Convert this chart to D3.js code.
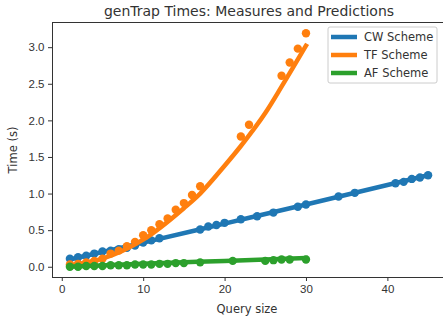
<!DOCTYPE html>
<html>
<head>
<meta charset="utf-8">
<script src="https://cdn.jsdelivr.net/npm/d3@7"></script>
<style>
  body { margin: 0; background: #fff; }
  svg { font-family: "DejaVu Sans", sans-serif; }
  .axis text { fill: #333; font-size: 11.5px; }
  .axis path, .axis line { stroke: #333; }
</style>
</head>
<body>
<svg id="chart" width="443" height="320"></svg>
<script>
// measured points
let cwX = [1, 2, 3, 4, 5, 6, 7, 8, 9, 10, 11, 12, 17, 18, 19, 20, 22, 24, 26, 29, 30, 34, 36, 41, 42, 43, 44, 45]
let cwY = [0.11, 0.13, 0.15, 0.18, 0.21, 0.22, 0.24, 0.26, 0.29, 0.33, 0.36, 0.39, 0.51, 0.55, 0.57, 0.60, 0.65, 0.69, 0.74, 0.82, 0.85, 0.96, 1.01, 1.14, 1.16, 1.20, 1.22, 1.25]

let tfX = [1, 2, 3, 4, 5, 6, 7, 8, 9, 10, 11, 12, 13, 14, 15, 16, 17, 22, 23, 27, 28, 29, 30]
let tfY = [0.03, 0.04, 0.06, 0.08, 0.11, 0.18, 0.22, 0.28, 0.34, 0.43, 0.50, 0.58, 0.66, 0.78, 0.87, 0.98, 1.10, 1.78, 1.94, 2.61, 2.79, 2.98, 3.19]

let afX = [1, 2, 3, 4, 5, 6, 7, 8, 9, 10, 11, 12, 13, 14, 15, 17, 21, 25, 26, 27, 28, 30]
let afY = [0.0, 0.0, 0.01, 0.01, 0.01, 0.02, 0.02, 0.02, 0.03, 0.03, 0.03, 0.04, 0.04, 0.05, 0.05, 0.06, 0.08, 0.08, 0.09, 0.10, 0.10, 0.10]

// predictions
let cwPredX = [1, 10, 20, 30, 45]
let cwPredY = [0.10, 0.33, 0.59, 0.85, 1.25]

let tfPredX = [1, 5, 10, 15, 17, 20, 22, 25, 27, 30]
let tfPredY = [0.02, 0.11, 0.37, 0.80, 1.00, 1.38, 1.65, 2.10, 2.46, 3.02]

let afPredX = [1, 10, 20, 30]
let afPredY = [0.0, 0.04, 0.08, 0.12]

let seriesNames = ["CW Scheme", "TF Scheme", "AF Scheme"]
let colors = ["#1f77b4", "#ff7f0e", "#2ca02c"]

let xTicks = [0, 10, 20, 30, 40]
let yTicks = [0.0, 0.5, 1.0, 1.5, 2.0, 2.5, 3.0]

let margin = { top: 22, right: -3, bottom: 43, left: 52 }
let width = 443
let height = 320

let svg = d3.select("#chart")

let x = d3.scaleLinear()
    .domain([-1.2, 47.2])
    .range([margin.left, width - margin.right])

let y = d3.scaleLinear()
    .domain([-0.14, 3.344])
    .range([height - margin.bottom, margin.top])

let zip = (xs, ys) => xs.map((v, i) => ({ x: v, y: ys[i] }))

let series = [
  { name: seriesNames[0], color: colors[0], pts: zip(cwX, cwY), pred: zip(cwPredX, cwPredY) },
  { name: seriesNames[1], color: colors[1], pts: zip(tfX, tfY), pred: zip(tfPredX, tfPredY) },
  { name: seriesNames[2], color: colors[2], pts: zip(afX, afY), pred: zip(afPredX, afPredY) }
]

let line = d3.line()
    .x(d => x(d.x))
    .y(d => y(d.y))
    .curve(d3.curveMonotoneX)

series.forEach(s => {
  svg.append("path")
    .attr("d", line(s.pred))
    .style("fill", "none")
    .style("stroke", s.color)
    .style("stroke-width", 4.5)
    .style("stroke-linecap", "square")

  svg.append("g")
    .selectAll("circle")
    .data(s.pts)
    .join("circle")
    .attr("cx", d => x(d.x))
    .attr("cy", d => y(d.y))
    .attr("r", 4.2)
    .style("fill", s.color)
})

let xAxis = svg.append("g")
    .attr("class", "axis")
    .attr("transform", `translate(0,${height - margin.bottom})`)
    .call(d3.axisBottom(x).tickValues(xTicks).tickSize(4).tickPadding(3.5).tickFormat(d3.format("d")))

let yAxis = svg.append("g")
    .attr("class", "axis")
    .attr("transform", `translate(${margin.left},0)`)
    .call(d3.axisLeft(y).tickValues(yTicks).tickSize(4).tickPadding(3.5).tickFormat(d3.format(".1f")))

xAxis.select(".domain").remove()
yAxis.select(".domain").remove()

// spines
svg.append("rect")
  .attr("x", margin.left + 0.5)
  .attr("y", margin.top + 0.5)
  .attr("width", width - margin.right - margin.left)
  .attr("height", height - margin.bottom - margin.top)
  .style("fill", "none")
  .style("stroke", "#333")
  .style("stroke-width", 1)

// legend
let legend = svg.append("g").attr("transform", "translate(328,27)")
legend.append("rect")
  .attr("x", 0)
  .attr("y", 0)
  .attr("width", 109)
  .attr("height", 56)
  .attr("rx", 2)
  .style("fill", "#fff")
  .style("fill-opacity", 0.8)
  .style("stroke", "#ccc")

series.forEach((s, i) => {
  legend.append("line")
    .attr("x1", 3)
    .attr("x2", 29)
    .attr("y1", 10 + i * 18)
    .attr("y2", 10 + i * 18)
    .style("stroke", s.color)
    .style("stroke-width", 4.5)
  legend.append("text")
    .attr("x", 36)
    .attr("y", 10 + i * 18)
    .attr("dy", "0.35em")
    .style("fill", "#333")
    .style("font-size", "11.5px")
    .text(s.name)
})

svg.append("text")
  .attr("x", 249)
  .attr("y", 16)
  .attr("text-anchor", "middle")
  .style("fill", "#333")
  .style("font-size", "14px")
  .text("genTrap Times: Measures and Predictions")

svg.append("text")
  .attr("x", 247)
  .attr("y", 313)
  .attr("text-anchor", "middle")
  .style("fill", "#333")
  .style("font-size", "11.5px")
  .text("Query size")

svg.append("text")
  .attr("transform", "translate(17,150) rotate(-90)")
  .attr("text-anchor", "middle")
  .style("fill", "#333")
  .style("font-size", "11.5px")
  .text("Time (s)")
</script>
</body>
</html>
